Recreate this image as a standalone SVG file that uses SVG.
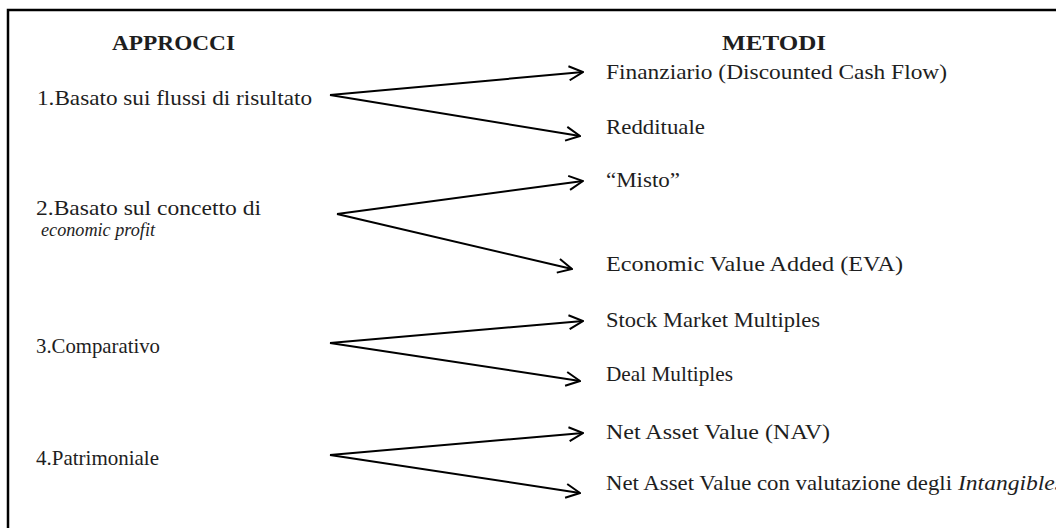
<svg xmlns="http://www.w3.org/2000/svg" width="1056" height="528" viewBox="0 0 1056 528">
  <defs>
    <!-- open V arrowhead used by every connector -->
    <marker id="arrow" viewBox="0 0 16 16" refX="15" refY="8" markerWidth="16" markerHeight="16" markerUnits="userSpaceOnUse" orient="auto">
      <path d="M1,1 L15,8 L1,15" fill="none" stroke="#000" stroke-width="2" stroke-linejoin="miter"/>
    </marker>
    <style>
      .frame { fill: none; stroke: #000; stroke-width: 2.5; }
      .conn path { fill: none; stroke: #000; stroke-width: 2; marker-end: url(#arrow); }
    </style>
  </defs>

  <rect width="1056" height="528" fill="#fff"/>

  <!-- outer frame: only the top and left edges fall inside the page -->
  <path class="frame" d="M8,530 L8,10 L1060,10"/>

  <g font-family="Liberation Serif, 'Times New Roman', serif" fill="#1e1e1e" font-size="21">
    <!-- column headings -->
    <g id="headings" font-weight="bold" font-size="22">
      <text x="112" y="50" textLength="123" lengthAdjust="spacingAndGlyphs">APPROCCI</text>
      <text x="722" y="50" textLength="104" lengthAdjust="spacingAndGlyphs">METODI</text>
    </g>

    <!-- approaches -->
    <g id="approccio-1">
      <text x="37" y="105" textLength="275" lengthAdjust="spacingAndGlyphs">1.Basato sui flussi di risultato</text>
    </g>
    <g id="approccio-2">
      <text x="36" y="215" textLength="225" lengthAdjust="spacingAndGlyphs">2.Basato sul concetto di</text>
      <text x="41" y="236" font-size="18" font-style="italic" textLength="114" lengthAdjust="spacingAndGlyphs">economic profit</text>
    </g>
    <g id="approccio-3">
      <text x="36" y="353" textLength="124" lengthAdjust="spacingAndGlyphs">3.Comparativo</text>
    </g>
    <g id="approccio-4">
      <text x="36" y="465" textLength="123" lengthAdjust="spacingAndGlyphs">4.Patrimoniale</text>
    </g>

    <!-- methods -->
    <g id="metodo-dcf">
      <text x="606" y="79" textLength="341" lengthAdjust="spacingAndGlyphs">Finanziario (Discounted Cash Flow)</text>
    </g>
    <g id="metodo-reddituale">
      <text x="606" y="134" textLength="99" lengthAdjust="spacingAndGlyphs">Reddituale</text>
    </g>
    <g id="metodo-misto">
      <text x="606" y="187" textLength="74" lengthAdjust="spacingAndGlyphs">“Misto”</text>
    </g>
    <g id="metodo-eva">
      <text x="606" y="271" textLength="297" lengthAdjust="spacingAndGlyphs">Economic Value Added (EVA)</text>
    </g>
    <g id="metodo-stock">
      <text x="606" y="327" textLength="214" lengthAdjust="spacingAndGlyphs">Stock Market Multiples</text>
    </g>
    <g id="metodo-deal">
      <text x="606" y="381" textLength="127" lengthAdjust="spacingAndGlyphs">Deal Multiples</text>
    </g>
    <g id="metodo-nav">
      <text x="606" y="439" textLength="224" lengthAdjust="spacingAndGlyphs">Net Asset Value (NAV)</text>
    </g>
    <g id="metodo-nav-intangibles">
      <text x="606" y="490" textLength="346" lengthAdjust="spacingAndGlyphs">Net Asset Value con valutazione degli</text>
      <text x="958" y="490" font-style="italic" textLength="106" lengthAdjust="spacingAndGlyphs">Intangibles</text>
    </g>
  </g>

  <!-- connectors: each approach fans out to its two methods -->
  <g id="connectors" class="conn">
    <path d="M330,95 L583,72"/>
    <path d="M330,95 L580,136"/>
    <path d="M337,214 L583,181"/>
    <path d="M337,214 L572,269"/>
    <path d="M330,343 L583,321"/>
    <path d="M330,343 L580,381"/>
    <path d="M330,455 L583,433"/>
    <path d="M330,455 L580,493"/>
  </g>
</svg>
